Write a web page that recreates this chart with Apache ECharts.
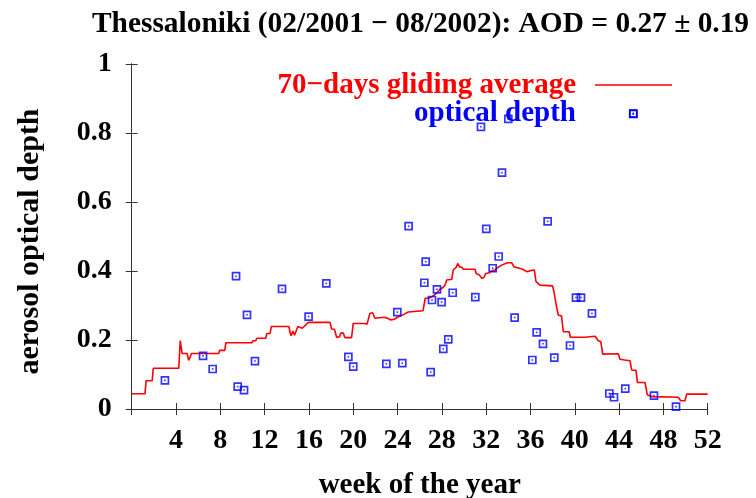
<!DOCTYPE html>
<html>
<head>
<meta charset="utf-8">
<script src="https://cdn.jsdelivr.net/npm/echarts/dist/echarts.min.js"></script>
<style>
  html, body { margin: 0; padding: 0; background: #ffffff; }
  #chart { width: 756px; height: 498px; }
</style>
</head>
<body>
<div id="chart"></div>
<script>
// Single-day aerosol optical depth measurements (week of the year, AOD)
const aodWeeks = [3.0, 6.44, 7.31, 9.42, 9.57, 10.14, 10.41, 11.13, 13.57, 15.97, 17.57, 19.56, 20.0,
  22.99, 23.98, 24.43, 25.0, 26.54, 26.42, 26.99, 27.11, 27.56, 27.98, 28.13, 28.58, 28.98, 31.02,
  31.53, 32.01, 32.59, 33.13, 33.43, 34.0, 34.57, 36.17, 36.56, 37.13, 37.55, 38.15, 39.57, 40.11,
  40.56, 41.55, 43.12, 43.54, 44.56, 45.28, 47.15, 49.14];
const aodValues = [0.083, 0.154, 0.116, 0.385, 0.065, 0.055, 0.273, 0.139, 0.348, 0.268, 0.364, 0.151, 0.123,
  0.131, 0.281, 0.133, 0.530, 0.427, 0.366, 0.107, 0.316, 0.347, 0.310, 0.174, 0.202, 0.337, 0.324,
  0.818, 0.522, 0.408, 0.442, 0.685, 0.841, 0.265, 0.142, 0.222, 0.189, 0.544, 0.149, 0.184, 0.323,
  0.323, 0.277, 0.045, 0.034, 0.059, 0.857, 0.039, 0.007];

// 70-day gliding average of the AOD
const avgWeeks = [0, 1.2, 1.3, 1.85, 1.95, 4.25, 4.38, 4.55, 5.0, 5.15, 5.3, 5.4, 7.85, 7.95, 8.4, 8.5,
  10.85, 10.95, 11.2, 11.3, 12.1, 12.2, 12.5, 12.6, 14.2, 14.3, 14.4, 14.55, 14.7, 14.85, 15.0, 15.15,
  15.4, 15.95, 17.9, 18.05, 18.3, 18.5, 18.75, 18.9, 19.1, 19.25, 19.85, 20.0, 21.05, 21.25, 21.5,
  21.75, 21.95, 22.1, 22.8, 23.1, 23.4, 23.7, 24.0, 24.3, 24.97, 26.3, 26.5, 26.8, 27.1, 27.5, 27.83,
  28.1, 28.28, 28.44, 28.89, 29.03, 29.3, 29.43, 29.6, 29.8, 29.94, 30.99, 31.1, 31.4, 31.6, 31.8,
  31.96, 32.1, 32.3, 32.5, 32.75, 32.95, 33.4, 33.91, 34.3, 34.51, 35.0, 35.3, 35.66, 36.0, 36.35,
  36.5, 36.86, 38.0, 38.12, 38.3, 38.51, 38.8, 38.97, 39.5, 39.6, 40.92, 41.07, 41.83, 42.13, 42.35,
  42.52, 43.93, 44.08, 44.5, 44.98, 45.14, 45.53, 45.65, 46.34, 46.55, 46.94, 49.35, 49.56, 49.95,
  50.1, 52];
const avgValues = [0.044, 0.044, 0.082, 0.082, 0.118, 0.118, 0.198, 0.161, 0.161, 0.141, 0.141, 0.161,
  0.161, 0.170, 0.170, 0.192, 0.192, 0.198, 0.198, 0.205, 0.205, 0.219, 0.219, 0.239, 0.239, 0.221,
  0.212, 0.226, 0.214, 0.210, 0.239, 0.234, 0.234, 0.251, 0.251, 0.232, 0.231, 0.208, 0.209, 0.221,
  0.220, 0.207, 0.207, 0.248, 0.248, 0.246, 0.277, 0.279, 0.263, 0.266, 0.266, 0.263, 0.258, 0.260,
  0.266, 0.270, 0.281, 0.285, 0.321, 0.321, 0.325, 0.335, 0.347, 0.352, 0.359, 0.374, 0.376, 0.403,
  0.411, 0.422, 0.412, 0.411, 0.405, 0.405, 0.393, 0.388, 0.379, 0.381, 0.393, 0.388, 0.395, 0.401,
  0.401, 0.408, 0.417, 0.424, 0.424, 0.412, 0.408, 0.405, 0.398, 0.401, 0.403, 0.369, 0.359, 0.357,
  0.340, 0.306, 0.272, 0.270, 0.224, 0.224, 0.208, 0.208, 0.212, 0.211, 0.198, 0.195, 0.159, 0.160,
  0.144, 0.142, 0.140, 0.113, 0.112, 0.077, 0.077, 0.041, 0.036, 0.034, 0.024, 0.024, 0.043, 0.043];

const titleText = 'Thessaloniki (02/2001 \u2212 08/2002): AOD = 0.27 \u00b1 0.19';
const lineLabel = '70\u2212days gliding average';
const pointLabel = 'optical depth';

const FONT = "'Liberation Serif', 'Times New Roman', serif";
const RED = '#ff0000';
const BLUE = '#0000ff';
const AXIS = '#333333';

const avgData = avgWeeks.map((w, i) => [w, avgValues[i]]);
const aodData = aodWeeks.map((w, i) => [w, aodValues[i]]);

const chart = echarts.init(document.getElementById('chart'), null, { renderer: 'canvas' });

const tickLabel = { fontFamily: FONT, fontWeight: 'bold', fontSize: 28, color: '#000' };

chart.setOption({
  animation: false,
  backgroundColor: '#ffffff',
  title: {
    text: titleText,
    left: 87,
    top: 5,
    textStyle: { fontFamily: FONT, fontWeight: 'bold', fontSize: 29.4, color: '#000' }
  },
  grid: { left: 131.7, right: 48.3, top: 64, bottom: 89, containLabel: false, outerBoundsMode: 'none' },
  xAxis: [{
    type: 'value', min: 0, max: 52, interval: 4, position: 'bottom',
    axisLine: { show: true, lineStyle: { color: AXIS, width: 1 } },
    axisTick: { show: true, inside: true, length: 6, lineStyle: { color: AXIS } },
    axisLabel: Object.assign({ margin: 18, formatter: v => (v === 0 ? '' : String(v)) }, tickLabel),
    splitLine: { show: false },
    name: 'week of the year', nameLocation: 'middle', nameGap: 62,
    nameTextStyle: { fontFamily: FONT, fontWeight: 'bold', fontSize: 29, color: '#000' }
  }, {
    type: 'value', min: 0, max: 52, interval: 4, position: 'top',
    axisLine: { show: true, lineStyle: { color: AXIS, width: 1 } },
    axisTick: { show: true, inside: true, length: 6, lineStyle: { color: AXIS } },
    axisLabel: { show: false }, splitLine: { show: false }
  }],
  yAxis: [{
    type: 'value', min: 0, max: 1, interval: 0.2, position: 'left',
    axisLine: { show: true, lineStyle: { color: AXIS, width: 1 } },
    axisTick: { show: true, inside: true, length: 6, lineStyle: { color: AXIS } },
    axisLabel: Object.assign({ margin: 20 }, tickLabel),
    splitLine: { show: false },
    name: 'aerosol optical depth', nameLocation: 'middle', nameGap: 86, nameRotate: 90,
    nameTextStyle: { fontFamily: FONT, fontWeight: 'bold', fontSize: 30, color: '#000', padding: [0, 10, 0, 0] }
  }, {
    type: 'value', min: 0, max: 1, interval: 0.2, position: 'right',
    axisLine: { show: true, lineStyle: { color: AXIS, width: 1 } },
    axisTick: { show: true, inside: true, length: 6, lineStyle: { color: AXIS } },
    axisLabel: { show: false }, splitLine: { show: false }
  }],
  series: [{
    name: lineLabel,
    type: 'line',
    data: avgData,
    showSymbol: false,
    lineStyle: { color: RED, width: 1.6 },
    z: 2
  }, {
    name: pointLabel,
    type: 'scatter',
    data: aodData,
    symbol: 'rect',
    symbolSize: 7,
    itemStyle: { color: 'rgba(0,0,0,0)', borderColor: BLUE, borderWidth: 1.7 },
    z: 3
  }, {
    name: pointLabel + ' centre',
    type: 'scatter',
    data: aodData,
    symbol: 'rect',
    symbolSize: 1.6,
    itemStyle: { color: BLUE },
    z: 4
  }],
  graphic: [
    { type: 'text', x: 576, y: 86, style: { text: lineLabel, fill: RED, font: "bold 29px " + FONT, textAlign: 'right', textVerticalAlign: 'middle' }, z: 10 },
    { type: 'line', shape: { x1: 595, y1: 85, x2: 672, y2: 85 }, style: { stroke: RED, lineWidth: 1.6 }, z: 10 },
    { type: 'text', x: 576, y: 114, style: { text: pointLabel, fill: BLUE, font: "bold 29px " + FONT, textAlign: 'right', textVerticalAlign: 'middle' }, z: 10 },
    { type: 'rect', shape: { x: 629.8, y: 110.5, width: 7, height: 7 }, style: { fill: 'none', stroke: BLUE, lineWidth: 1.7 }, z: 10 },
    { type: 'rect', shape: { x: 632.5, y: 113.2, width: 1.6, height: 1.6 }, style: { fill: BLUE }, z: 10 }
  ]
});
</script>
</body>
</html>
